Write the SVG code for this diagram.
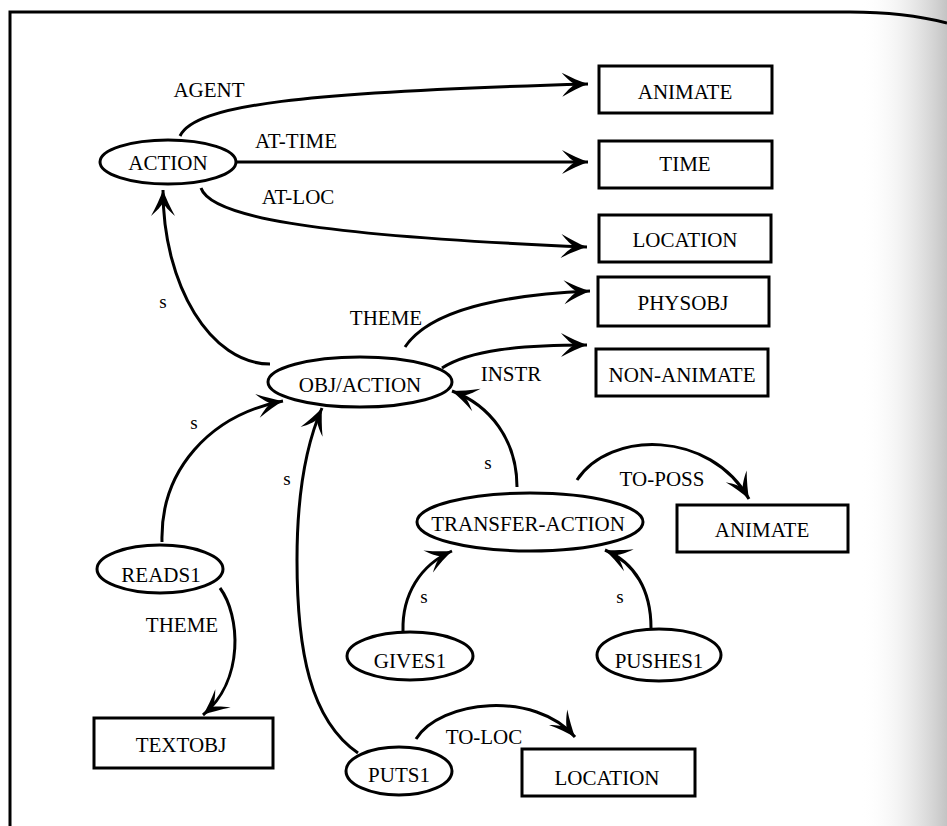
<svg xmlns="http://www.w3.org/2000/svg" width="947" height="826" viewBox="0 0 947 826" font-family="'Liberation Serif', 'DejaVu Serif', serif">
  <defs>
    <marker id="arrow" markerUnits="userSpaceOnUse" viewBox="-27 -13 28 26" markerWidth="28" markerHeight="26" refX="0" refY="0" orient="auto">
      <path d="M0,0 C-8,-3 -17,-7 -26,-12 C-20,-5 -16,-2 -13,0 C-16,2 -20,5 -26,12 C-17,7 -8,3 0,0 Z" fill="#000"/>
    </marker>
    <linearGradient id="edgeShade" x1="0" y1="0" x2="1" y2="0">
      <stop offset="0" stop-color="#ffffff" stop-opacity="0"/>
      <stop offset="0.5" stop-color="#e6e6e6" stop-opacity="0.6"/>
      <stop offset="1" stop-color="#bdbdbd" stop-opacity="0.9"/>
    </linearGradient>
  </defs>
  <style>
    .frame { fill: none; stroke: #000; stroke-width: 3; }
    .box { fill: #fff; stroke: #000; stroke-width: 3; }
    .oval { fill: #fff; stroke: #000; stroke-width: 3; }
    .edge { fill: none; stroke: #000; stroke-width: 3; marker-end: url(#arrow); }
    text { font-family: 'Liberation Serif', 'DejaVu Serif', serif; font-size: 21px; fill: #000; }
    .c { text-anchor: middle; }
    .s { font-size: 19px; }
  </style>

  <rect width="947" height="826" fill="#fff"/>
  <rect x="860" y="0" width="87" height="826" fill="url(#edgeShade)"/>

  <!-- page frame -->
  <path class="frame" d="M10,826 L10,12 L850,12 C890,12 920,16 947,23"/>

  <!-- connectors -->
  <g id="connectors">
    <path class="edge" d="M180,136 C195,105 300,92 588,84"/>
    <path class="edge" d="M237,162 L588,162"/>
    <path class="edge" d="M201,188 C210,215 300,235 587,247"/>
    <path class="edge" d="M270,364 C211,364 163,286 163,190"/>
    <path class="edge" d="M405,347 C430,310 500,295 590,291"/>
    <path class="edge" d="M442,368 C470,350 520,345 587,345"/>
    <path class="edge" d="M162,542 C160,470 210,415 283,401"/>
    <path class="edge" d="M358,753 C310,720 297,650 297,560 C297,490 308,440 322,408"/>
    <path class="edge" d="M517,487 C517,440 490,405 452,391"/>
    <path class="edge" d="M577,480 C610,430 710,430 749,499"/>
    <path class="edge" d="M403,631 C402,595 420,565 452,551"/>
    <path class="edge" d="M651,628 C651,590 635,563 605,550"/>
    <path class="edge" d="M220,588 C240,615 245,680 203,715"/>
    <path class="edge" d="M416,739 C440,700 535,690 575,737"/>
  </g>

  <!-- connector labels -->
  <g id="labels">
    <text x="209" y="97" class="c">AGENT</text>
    <text x="296" y="148" class="c">AT-TIME</text>
    <text x="298" y="204" class="c">AT-LOC</text>
    <text x="163" y="308" class="c s">s</text>
    <text x="386" y="325" class="c">THEME</text>
    <text x="511" y="381" class="c">INSTR</text>
    <text x="194" y="429" class="c s">s</text>
    <text x="287" y="485" class="c s">s</text>
    <text x="488" y="469" class="c s">s</text>
    <text x="662" y="486" class="c">TO-POSS</text>
    <text x="182" y="632" class="c">THEME</text>
    <text x="424" y="603" class="c s">s</text>
    <text x="620" y="603" class="c s">s</text>
    <text x="484" y="744" class="c">TO-LOC</text>
  </g>

  <!-- nodes -->
  <g id="action"><ellipse class="oval" cx="168" cy="162" rx="68" ry="22"/><text x="168" y="170" class="c">ACTION</text></g>
  <g id="animate-top"><rect class="box" x="599" y="66" width="173" height="47"/><text x="685" y="99" class="c">ANIMATE</text></g>
  <g id="time"><rect class="box" x="599" y="141" width="173" height="47"/><text x="685" y="171" class="c">TIME</text></g>
  <g id="location-top"><rect class="box" x="599" y="215" width="172" height="47"/><text x="685" y="247" class="c">LOCATION</text></g>
  <g id="physobj"><rect class="box" x="598" y="277" width="171" height="49"/><text x="683" y="310" class="c">PHYSOBJ</text></g>
  <g id="non-animate"><rect class="box" x="596" y="349" width="172" height="47"/><text x="682" y="382" class="c">NON-ANIMATE</text></g>
  <g id="obj-action"><ellipse class="oval" cx="360" cy="382" rx="92" ry="25"/><text x="360" y="392" class="c">OBJ/ACTION</text></g>
  <g id="transfer-action"><ellipse class="oval" cx="530" cy="522" rx="113" ry="29"/><text x="528" y="531" class="c">TRANSFER-ACTION</text></g>
  <g id="animate-low"><rect class="box" x="677" y="505" width="171" height="47"/><text x="762" y="537" class="c">ANIMATE</text></g>
  <g id="reads1"><ellipse class="oval" cx="160" cy="569" rx="63" ry="24"/><text x="161" y="582" class="c">READS1</text></g>
  <g id="gives1"><ellipse class="oval" cx="410" cy="656" rx="63" ry="24"/><text x="410" y="668" class="c">GIVES1</text></g>
  <g id="pushes1"><ellipse class="oval" cx="659" cy="655" rx="62" ry="26"/><text x="659" y="668" class="c">PUSHES1</text></g>
  <g id="textobj"><rect class="box" x="94" y="718" width="179" height="50"/><text x="181" y="752" class="c">TEXTOBJ</text></g>
  <g id="puts1"><ellipse class="oval" cx="399" cy="771" rx="53" ry="24"/><text x="399" y="782" class="c">PUTS1</text></g>
  <g id="location-low"><rect class="box" x="522" y="749" width="173" height="47"/><text x="607" y="785" class="c">LOCATION</text></g>
</svg>
